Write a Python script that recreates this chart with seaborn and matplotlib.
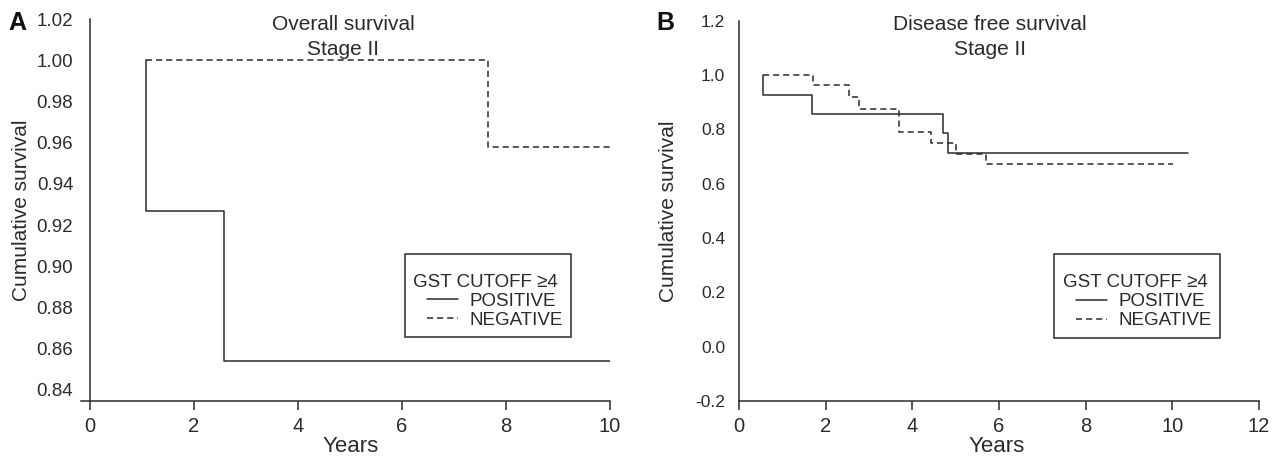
import pandas as pd
import matplotlib.pyplot as plt
import seaborn as sns
from matplotlib.offsetbox import DrawingArea, HPacker

# Kaplan-Meier step points (years, cumulative survival)
os_pos_years = [1.08, 1.08, 2.57, 10.0]
os_pos_surv = [1.000, 0.927, 0.854, 0.854]
os_neg_years = [1.08, 7.65, 10.0]
os_neg_surv = [1.000, 0.958, 0.958]

dfs_pos_years = [0.55, 0.55, 1.68, 4.70, 4.82, 10.35]
dfs_pos_surv = [1.000, 0.927, 0.857, 0.786, 0.714, 0.714]
dfs_neg_years = [0.55, 1.70, 2.55, 2.77, 3.69, 4.44, 5.01, 5.70, 10.02]
dfs_neg_surv = [1.000, 0.962, 0.919, 0.875, 0.792, 0.750, 0.708, 0.672, 0.672]

groups = ["POSITIVE", "NEGATIVE"]
os_ticks = [0.84, 0.86, 0.88, 0.90, 0.92, 0.94, 0.96, 0.98, 1.00, 1.02]
dfs_ticks = [-0.2, 0.0, 0.2, 0.4, 0.6, 0.8, 1.0, 1.2]


def km_frame(pos_x, pos_y, neg_x, neg_y):
    return pd.DataFrame({
        "Years": pos_x + neg_x,
        "Survival": pos_y + neg_y,
        "Group": [groups[0]] * len(pos_x) + [groups[1]] * len(neg_x),
    })


os_df = km_frame(os_pos_years, os_pos_surv, os_neg_years, os_neg_surv)
dfs_df = km_frame(dfs_pos_years, dfs_pos_surv, dfs_neg_years, dfs_neg_surv)

sns.set_style("ticks")
plt.rcParams["font.family"] = ["Liberation Sans", "DejaVu Sans"]
plt.rcParams["axes.unicode_minus"] = False

ink = "#2b2b2b"
fig = plt.figure(figsize=(12.82, 4.58), dpi=100)
ax_a = fig.add_axes([0.0632, 0.1245, 0.4126, 0.834])
ax_b = fig.add_axes([0.5764, 0.1245, 0.4057, 0.830])

palette = {g: ink for g in groups}
dashes = {"POSITIVE": "", "NEGATIVE": (4, 2.6)}

for ax, df in [(ax_a, os_df), (ax_b, dfs_df)]:
    sns.lineplot(data=df, x="Years", y="Survival", hue="Group", style="Group",
                 palette=palette, dashes=dashes, estimator=None, sort=False,
                 drawstyle="steps-post", linewidth=1.1, ax=ax)
    for side in ["top", "right"]:
        ax.spines[side].set_visible(False)
    for side in ["left", "bottom"]:
        ax.spines[side].set_color(ink)
        ax.spines[side].set_linewidth(1.1)
    ax.tick_params(axis="x", direction="out", length=6.5, width=1.1, color=ink,
                   pad=5, labelsize=14.5, labelcolor=ink)
    ax.set_xlabel("Years", fontsize=16, color=ink)
    ax.set_ylabel("Cumulative survival", fontsize=15, color=ink)

# panel A
ax_a.set_xlim(-0.173, 10)
ax_a.set_ylim(0.8346, 1.02)
ax_a.spines["left"].set_position(("data", 0))
ax_a.set_xticks([0, 2, 4, 6, 8, 10])
ax_a.set_yticks(os_ticks)
ax_a.set_yticklabels([f"{v:.2f}" for v in os_ticks])
ax_a.set_yticks([1.02], minor=True)
ax_a.tick_params(axis="y", which="major", length=0, pad=12, labelsize=13.5,
                 labelcolor=ink)
ax_a.tick_params(axis="y", which="minor", length=6.5, width=1.1, color=ink,
                 direction="out")
ax_a.yaxis.set_label_coords(-0.094, 0.5)
ax_a.xaxis.set_label_coords(0.509, -0.092)

# panel B
ax_b.set_xlim(0, 12)
ax_b.set_ylim(-0.2, 1.2)
ax_b.set_xticks([0, 2, 4, 6, 8, 10, 12])
ax_b.set_yticks(dfs_ticks)
ax_b.set_yticklabels([f"{v:.1f}" for v in dfs_ticks])
ax_b.set_yticks([-0.2], minor=True)
ax_b.tick_params(axis="y", which="major", length=0, pad=10, labelsize=12.5,
                 labelcolor=ink)
ax_b.tick_params(axis="y", which="minor", length=3.5, width=1.1, color=ink,
                 direction="out")
ax_b.yaxis.set_label_coords(-0.117, 0.5)
ax_b.xaxis.set_label_coords(0.496, -0.092)

for ax, x0 in [(ax_a, 0.612), (ax_b, 0.606)]:
    sns.move_legend(ax, "upper left", bbox_to_anchor=(x0, 0.386),
                    title="GST CUTOFF \u22654", frameon=True, fancybox=False,
                    edgecolor=ink, framealpha=1, fontsize=13.5, title_fontsize=13.5,
                    labelspacing=0.1, handlelength=1.65, handletextpad=0.6,
                    borderpad=0.45, alignment="left", borderaxespad=0)
    leg = ax.get_legend()
    leg.get_frame().set_linewidth(1.1)
    # extra room above the title and an indent for the entries, as in the original
    box = leg._legend_box._children
    hb = leg._legend_handle_box
    box[box.index(hb)] = HPacker(pad=0, sep=0, align="top",
                                 children=[DrawingArea(10, 1), hb])
    box.insert(0, DrawingArea(1, 7))
    for t in leg.get_texts():
        t.set_color(ink)
    leg.get_title().set_color(ink)

# titles and panel letters
fig.text(343 / 1282, 1 - 30 / 458, "Overall survival", ha="center", va="baseline",
         fontsize=15, color=ink)
fig.text(343 / 1282, 1 - 55 / 458, "Stage II", ha="center", va="baseline",
         fontsize=15, color=ink)
fig.text(990 / 1282, 1 - 30 / 458, "Disease free survival", ha="center", va="baseline",
         fontsize=15, color=ink)
fig.text(990 / 1282, 1 - 55 / 458, "Stage II", ha="center", va="baseline",
         fontsize=15, color=ink)
fig.text(8 / 1282, 1 - 30 / 458, "A", ha="left", va="baseline", fontsize=18,
         fontweight="bold", color="#111111")
fig.text(656 / 1282, 1 - 30 / 458, "B", ha="left", va="baseline", fontsize=18,
         fontweight="bold", color="#111111")

plt.savefig("out.png", dpi=100)
